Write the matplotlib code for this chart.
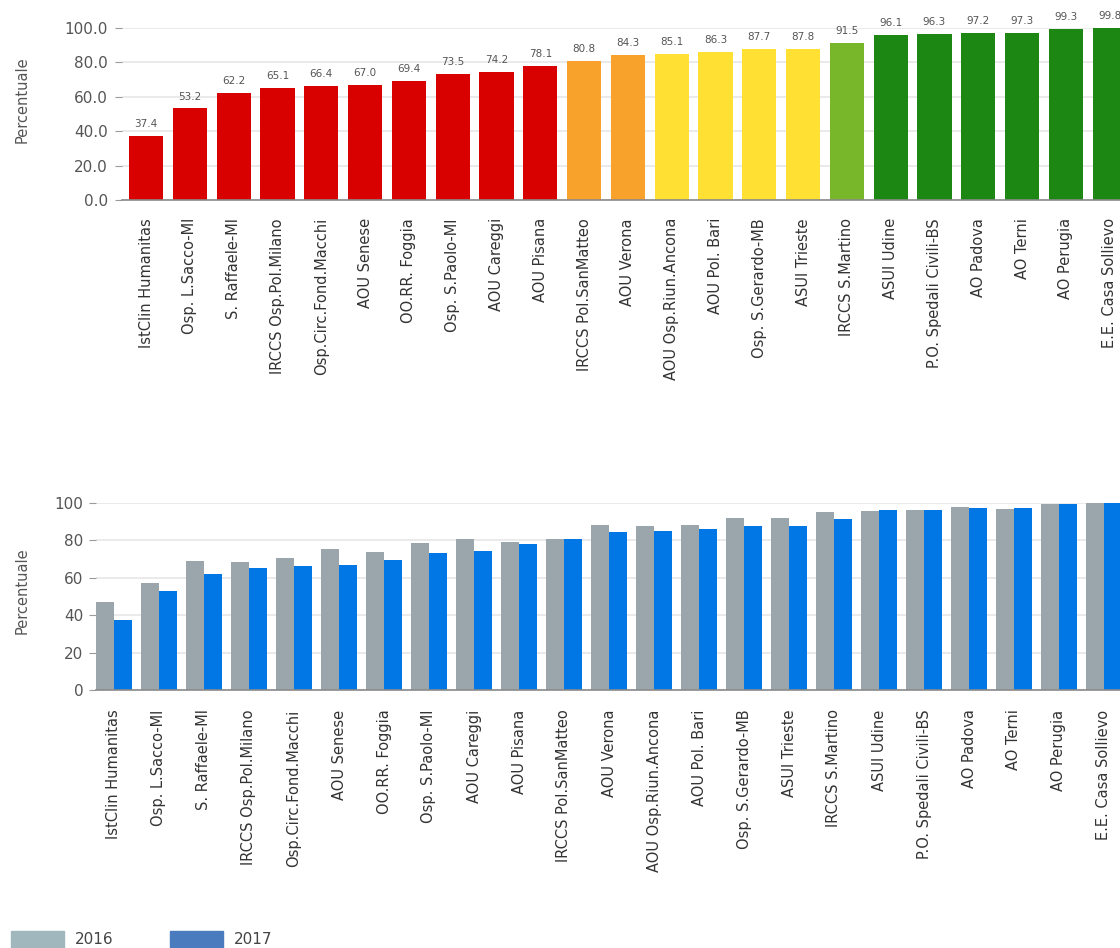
import matplotlib
matplotlib.use("Agg")
import matplotlib.pyplot as plt
from matplotlib.patches import Rectangle
import numpy as np

# Structures, in ascending order of the 2017 value
structures = [
    "IstClin Humanitas", "Osp. L.Sacco-MI", "S. Raffaele-MI", "IRCCS Osp.Pol.Milano",
    "Osp.Circ.Fond.Macchi", "AOU Senese", "OO.RR. Foggia", "Osp. S.Paolo-MI",
    "AOU Careggi", "AOU Pisana", "IRCCS Pol.SanMatteo", "AOU Verona",
    "AOU Osp.Riun.Ancona", "AOU Pol. Bari", "Osp. S.Gerardo-MB", "ASUI Trieste",
    "IRCCS S.Martino", "ASUI Udine", "P.O. Spedali Civili-BS", "AO Padova",
    "AO Terni", "AO Perugia", "E.E. Casa Sollievo",
]
values_2017 = [37.4, 53.2, 62.2, 65.1, 66.4, 67.0, 69.4, 73.5, 74.2, 78.1, 80.8,
               84.3, 85.1, 86.3, 87.7, 87.8, 91.5, 96.1, 96.3, 97.2, 97.3, 99.3, 99.8]
values_2016 = [46.8, 57.0, 68.8, 68.3, 70.6, 75.4, 73.7, 78.5, 80.8, 79.0, 80.8,
               88.4, 87.6, 88.4, 91.8, 91.8, 95.3, 95.5, 96.3, 97.9, 96.6, 99.5, 100.0]
y_ticks = [0, 20, 40, 60, 80, 100]
year_labels = ["2016", "2017"]

# Colour bands for the 2017 ranking
band_edges = [80, 85, 90, 95]
band_colors = ["#d90000", "#f8a22c", "#ffe033", "#78b72a", "#1c8712"]

FONT = ["Liberation Sans Narrow", "DejaVu Sans"]
plt.rcParams["font.family"] = FONT
TXT = "#555555"
GRID = "#e6e6e6"

W, H = 1120, 948
fig = plt.figure(figsize=(W / 100, H / 100), dpi=100)

x = np.arange(len(structures))


def style_axes(ax, fmt):
    ax.set_ylim(0, 100)
    ax.set_yticks(y_ticks)
    ax.set_yticklabels([fmt.format(v) for v in y_ticks])
    ax.grid(axis="y", color=GRID, linewidth=1.2)
    ax.set_axisbelow(True)
    for s in ["top", "right", "left"]:
        ax.spines[s].set_visible(False)
    ax.spines["bottom"].set_color("#8a8a8a")
    ax.spines["bottom"].set_linewidth(1.2)
    ax.tick_params(axis="y", length=5, color="#9a9a9a", pad=4, labelsize=11, labelcolor=TXT)
    ax.tick_params(axis="x", length=0, labelsize=10.5, labelcolor="#333333")
    ax.set_xticks(x)
    ax.set_xticklabels(structures, rotation=90, va="top", ha="center")


# ---- Top chart: 2017 values coloured by band ----
ax1 = fig.add_axes([122 / W, (H - 200) / H, (W - 122) / W, 172 / H])
colors = [band_colors[int(np.searchsorted(band_edges, v, side="right"))] for v in values_2017]
ax1.bar(x, values_2017, width=0.78, color=colors)
for xi, v in zip(x, values_2017):
    ax1.annotate(f"{v:.1f}", (xi, v), xytext=(0, 5), textcoords="offset points",
                 ha="center", va="bottom", fontsize=7.5, color=TXT, annotation_clip=False)
ax1.set_xlim(-0.55, (W - 122) / 43.8 - 0.55)
style_axes(ax1, "{:.1f}")
ax1.tick_params(axis="x", pad=13)
ax1.tick_params(axis="y", pad=5)

# ---- Bottom chart: 2016 vs 2017 ----
ax2 = fig.add_axes([96 / W, (H - 690) / H, (W - 96) / W, 187 / H])
bw = 0.4
ax2.bar(x - bw / 2, values_2016, width=bw, color="#9aa6ab")
ax2.bar(x + bw / 2, values_2017, width=bw, color="#0077e5")
ax2.set_xlim(-0.4, (W - 96) / 45.0 - 0.4)
style_axes(ax2, "{:d}")
ax2.tick_params(axis="x", pad=14)

# Axis titles
for yc in (100, 591):
    fig.text(22 / W, 1 - yc / H, "Percentuale", rotation=90, ha="center", va="center",
             fontsize=10.5, color=TXT)

# Legend
legend_colors = ["#a0b8bd", "#4a7bbf"]
for i, (lab, col) in enumerate(zip(year_labels, legend_colors)):
    x0 = 11 + i * 159
    fig.patches.append(Rectangle((x0 / W, 0), 53 / W, 17 / H, transform=fig.transFigure,
                                 color=col, figure=fig))
    fig.text((x0 + 64) / W, 8 / H, lab, ha="left", va="center", fontsize=11, color="#444444")

fig.savefig("out.png", dpi=100)
